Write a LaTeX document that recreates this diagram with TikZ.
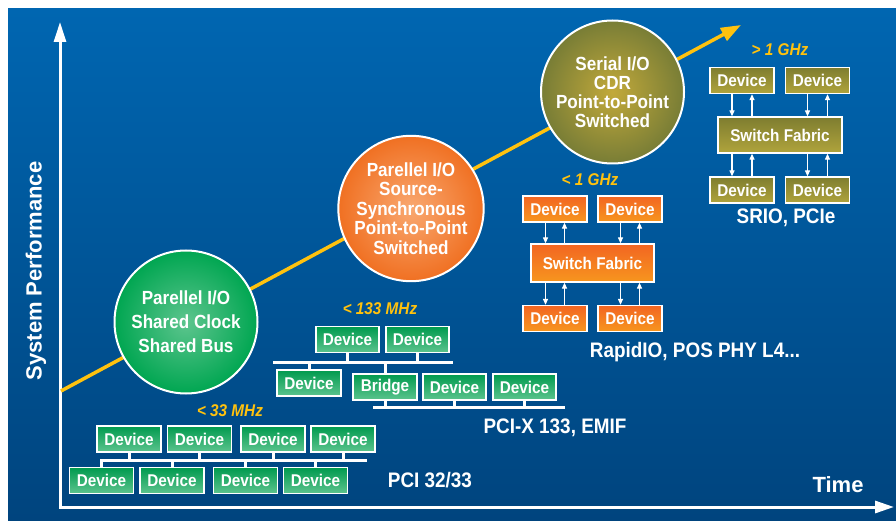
\documentclass[tikz,border=0pt]{standalone}
\usepackage{fontspec}
\setmainfont{Liberation Sans}
\newfontfamily\cond{Liberation Sans}[FakeStretch=0.9]
\usetikzlibrary{arrows.meta,calc}
\definecolor{bgtop}{HTML}{0066B1}
\definecolor{bgbot}{HTML}{00447E}
\definecolor{ylw}{HTML}{FFC20E}
\definecolor{gtop}{HTML}{009A4E}
\definecolor{gbot}{HTML}{5CC48E}
\definecolor{otop}{HTML}{F26522}
\definecolor{obot}{HTML}{F7961E}
\definecolor{vtop}{HTML}{7E7D30}
\definecolor{vbot}{HTML}{B0A43C}
\definecolor{gin}{HTML}{5DC58E}
\definecolor{gout}{HTML}{00A651}
\definecolor{oin}{HTML}{F9A870}
\definecolor{oout}{HTML}{F07022}
\definecolor{vin}{HTML}{C2A93A}
\definecolor{vout}{HTML}{787D36}
\begin{document}
\begin{tikzpicture}[x=1pt,y=-1pt,
  dev/.style={draw=white, line width=1.3pt, minimum width=64pt, minimum height=26pt,
    inner sep=0pt, text=white, font=\cond\bfseries\fontsize{17}{18}\selectfont},
  gdev/.style={dev, top color=gtop, bottom color=gbot},
  odev/.style={dev, top color=otop, bottom color=obot},
  vdev/.style={dev, top color=vtop, bottom color=vbot},
  swbox/.style={minimum width=123pt, minimum height=38pt},
  bus/.style={white, line width=3pt},
  link/.style={white, line width=1.2pt, -{Triangle[length=6pt,width=5pt]}},
  circ/.style={circle, draw=white, line width=2pt, minimum size=143pt, inner sep=0pt,
    align=center, text=white},
  freq/.style={text=ylw, font=\cond\bfseries\itshape\fontsize{17}{20}\selectfont},
  tag/.style={text=white, font=\cond\bfseries\fontsize{21}{24}\selectfont},
  axis/.style={white, line width=3pt,
    {Triangle[length=20pt,width=12pt]}-{Triangle[length=19pt,width=12pt]}}
]
\useasboundingbox (0,0) rectangle (896,521);
\fill[white] (0,0) rectangle (896,521);
\shade[top color=bgtop, bottom color=bgbot] (8,9) rectangle (896,521);

% axes
\coordinate (O) at (60,507);
\coordinate (Ytip) at (60,22);
\coordinate (Xtip) at (894,507);
\draw[axis] (Ytip) -- (O) -- (Xtip);
\node[text=white, font=\bfseries\fontsize{22}{24}\selectfont, rotate=90] (ylab) at (36,271) {System Performance};
\node[text=white, font=\bfseries\fontsize{22}{24}\selectfont] (xlab) at (838,485) {Time};

% trend arrow
\coordinate (ts) at (61,391);
\coordinate (te) at (741,25);
\draw[ylw, line width=3.5pt, -{Triangle[length=20pt,width=14pt]}] (ts) -- (te);

% circles
\node[circ, inner color=gin, outer color=gout, font=\cond\bfseries\fontsize{19}{24}\selectfont]
  (c1) at (186,322) {Parellel I/O\\Shared Clock\\Shared Bus};
\node[circ, inner color=oin, outer color=oout, font=\cond\bfseries\fontsize{19}{19.5}\selectfont]
  (c2) at (411,208.5) {Parellel I/O\\Source-\\Synchronous\\Point-to-Point\\Switched};
\node[circ, inner color=vin, outer color=vout, font=\cond\bfseries\fontsize{19}{19}\selectfont]
  (c3) at (612.5,92) {Serial I/O\\CDR\\Point-to-Point\\Switched};

% PCI 32/33
\node[freq] (f1) at (230,411) {< 33 MHz};
\node[gdev] (p1) at (129,439) {Device};
\node[gdev] (p2) at (199.5,439) {Device};
\node[gdev] (p3) at (273,439) {Device};
\node[gdev] (p4) at (343,439) {Device};
\node[gdev] (q1) at (101.5,480.5) {Device};
\node[gdev] (q2) at (172,480.5) {Device};
\node[gdev] (q3) at (245.5,480.5) {Device};
\node[gdev] (q4) at (315.5,480.5) {Device};
\coordinate (b1l) at (100,460);
\coordinate (b1r) at (367,460);
\draw[bus] (b1l) -- (b1r);
\foreach \n in {p1,p2,p3,p4} \draw[bus] (\n.south) -- (\n.south |- b1l);
\foreach \n in {q1,q2,q3,q4} \draw[bus] (\n.north) -- (\n.north |- b1l);
\node[tag] (t1) at (430,480) {PCI 32/33};

% PCI-X 133
\node[freq] (f2) at (380,309) {< 133 MHz};
\node[gdev, minimum width=63pt] (x1) at (347.5,339.5) {Device};
\node[gdev, minimum width=63pt] (x2) at (417.5,339.5) {Device};
\node[gdev] (x3) at (309,383) {Device};
\node[gdev] (br) at (385,387) {Bridge};
\node[gdev, minimum width=63pt] (x4) at (454.5,387) {Device};
\node[gdev, minimum width=63pt] (x5) at (524.5,387) {Device};
\coordinate (b2l) at (273,362);
\coordinate (b2r) at (453,362);
\coordinate (b3l) at (373,407);
\coordinate (b3r) at (565,407);
\draw[bus] (b2l) -- (b2r);
\draw[bus] (b3l) -- (b3r);
\foreach \n in {x1,x2} \draw[bus] (\n.south) -- (\n.south |- b2l);
\foreach \n in {x3,br} \draw[bus] (\n.north) -- (\n.north |- b2l);
\foreach \n in {br,x4,x5} \draw[bus] (\n.south) -- (\n.south |- b3l);
\node[tag] (t2) at (555,428) {PCI-X 133, EMIF};

% RapidIO
\node[freq] (f3) at (590,180) {< 1 GHz};
\node[odev] (r1) at (555,209) {Device};
\node[odev] (r2) at (630,209) {Device};
\node[odev, swbox] (rs) at (592.5,263) {Switch Fabric};
\node[odev] (r3) at (555,318.5) {Device};
\node[odev] (r4) at (630,318.5) {Device};
\node[tag] (t3) at (695,352) {RapidIO, POS PHY L4...};

% SRIO
\node[freq] (f4) at (780,50) {> 1 GHz};
\node[vdev] (s1) at (742,80.5) {Device};
\node[vdev] (s2) at (817.5,80.5) {Device};
\node[vdev, swbox, minimum width=124pt, minimum height=36pt] (ss) at (780,135) {Switch Fabric};
\node[vdev] (s3) at (742,190) {Device};
\node[vdev] (s4) at (817.5,190) {Device};
\node[tag] (t4) at (786,218) {SRIO, PCIe};

% links device <-> switch
\foreach \d/\s/\o in {r1/rs/9.5, r2/rs/9.5, s1/ss/10, s2/ss/10} {
  \coordinate (la) at ($(\d.south)+(-\o,0)$);
  \coordinate (lb) at ($(\d.south)+(\o,0)$);
  \draw[link] (la) -- (la |- \s.north);
  \draw[link] (lb |- \s.north) -- (lb);
}
\foreach \d/\s/\o in {r3/rs/9.5, r4/rs/9.5, s3/ss/10, s4/ss/10} {
  \coordinate (la) at ($(\d.north)+(-\o,0)$);
  \coordinate (lb) at ($(\d.north)+(\o,0)$);
  \draw[link] (la |- \s.south) -- (la);
  \draw[link] (lb) -- (lb |- \s.south);
}
\end{tikzpicture}
\end{document}
